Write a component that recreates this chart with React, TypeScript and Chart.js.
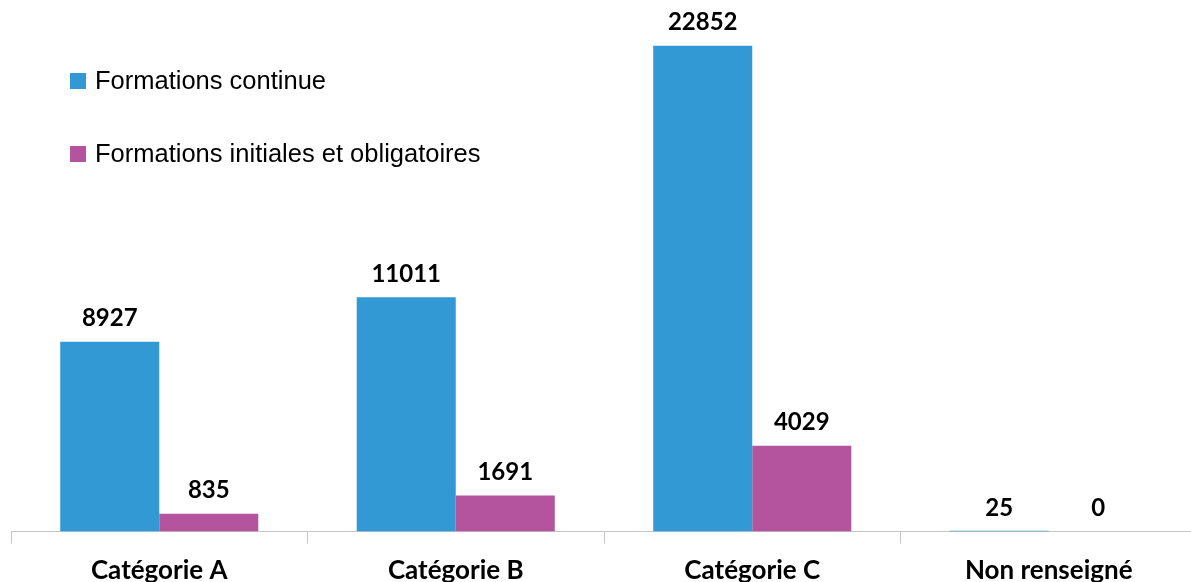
import React, { useEffect, useRef } from "react";
import { Chart, registerables } from "chart.js";

Chart.register(...registerables);

const categories = ["Catégorie A", "Catégorie B", "Catégorie C", "Non renseigné"];
const continueValues = [8927, 11011, 22852, 25];
const initialesValues = [835, 1691, 4029, 0];
const seriesNames = ["Formations continue", "Formations initiales et obligatoires"];
const seriesColors = ["#3399d4", "#b5549e"];
const yMax = 25000;

// Bold value above each bar
const valueLabels = {
  id: "valueLabels",
  afterDatasetsDraw(chart: Chart) {
    const ctx = chart.ctx;
    ctx.save();
    ctx.font = "bold 24px Lato";
    ctx.fillStyle = "#000";
    ctx.textAlign = "center";
    ctx.textBaseline = "middle";
    chart.data.datasets.forEach((ds, i) => {
      const meta = chart.getDatasetMeta(i);
      meta.data.forEach((bar: any, j: number) => {
        const v = ds.data[j] as number;
        ctx.fillText(String(v), bar.x, bar.y - 23);
      });
    });
    ctx.restore();
  },
};

// Stacked legend inside the plot, top-left
const sideLegend = {
  id: "sideLegend",
  afterDraw(chart: Chart) {
    const ctx = chart.ctx;
    ctx.save();
    ctx.font = "25.5px 'Liberation Sans', Arial, sans-serif";
    ctx.textBaseline = "middle";
    ctx.textAlign = "left";
    chart.data.datasets.forEach((ds, i) => {
      const cy = 81 + i * 73;
      ctx.fillStyle = ds.backgroundColor as string;
      ctx.fillRect(70, cy - 8, 16, 16);
      ctx.fillStyle = "#000";
      ctx.fillText(ds.label as string, 95, cy + 1);
    });
    ctx.restore();
  },
};

export default function App() {
  const ref = useRef<HTMLCanvasElement>(null);

  useEffect(() => {
    if (!ref.current) return;
    const chart = new Chart(ref.current, {
      type: "bar",
      data: {
        labels: categories,
        datasets: [
          {
            label: seriesNames[0],
            data: continueValues,
            backgroundColor: seriesColors[0],
            barPercentage: 1,
            categoryPercentage: 0.668,
          },
          {
            label: seriesNames[1],
            data: initialesValues,
            backgroundColor: seriesColors[1],
            barPercentage: 1,
            categoryPercentage: 0.668,
          },
        ],
      },
      options: {
        responsive: false,
        animation: false,
        devicePixelRatio: 1,
        layout: { padding: { left: 11, right: 3, top: 0, bottom: 0 } },
        plugins: {
          legend: { display: false },
          tooltip: { enabled: false },
        },
        scales: {
          y: { display: false, min: 0, max: yMax },
          x: {
            offset: true,
            grid: {
              offset: true,
              drawOnChartArea: false,
              drawTicks: true,
              tickLength: 12,
              color: "#c4c4c4",
            },
            border: { display: true, color: "#c4c4c4", width: 1 },
            ticks: {
              color: "#000",
              padding: 13,
              font: { family: "Lato", size: 26, weight: "bold", lineHeight: 1.1 },
            },
          },
        },
      },
      plugins: [valueLabels, sideLegend],
    });
    return () => chart.destroy();
  }, []);

  return (
    <div
      style={{
        position: "fixed",
        left: 0,
        top: 0,
        width: 1191,
        height: 582,
        overflow: "hidden",
        background: "#fff",
      }}
    >
      <canvas ref={ref} width={1200} height={598} style={{ width: 1200, height: 598 }} />
    </div>
  );
}
